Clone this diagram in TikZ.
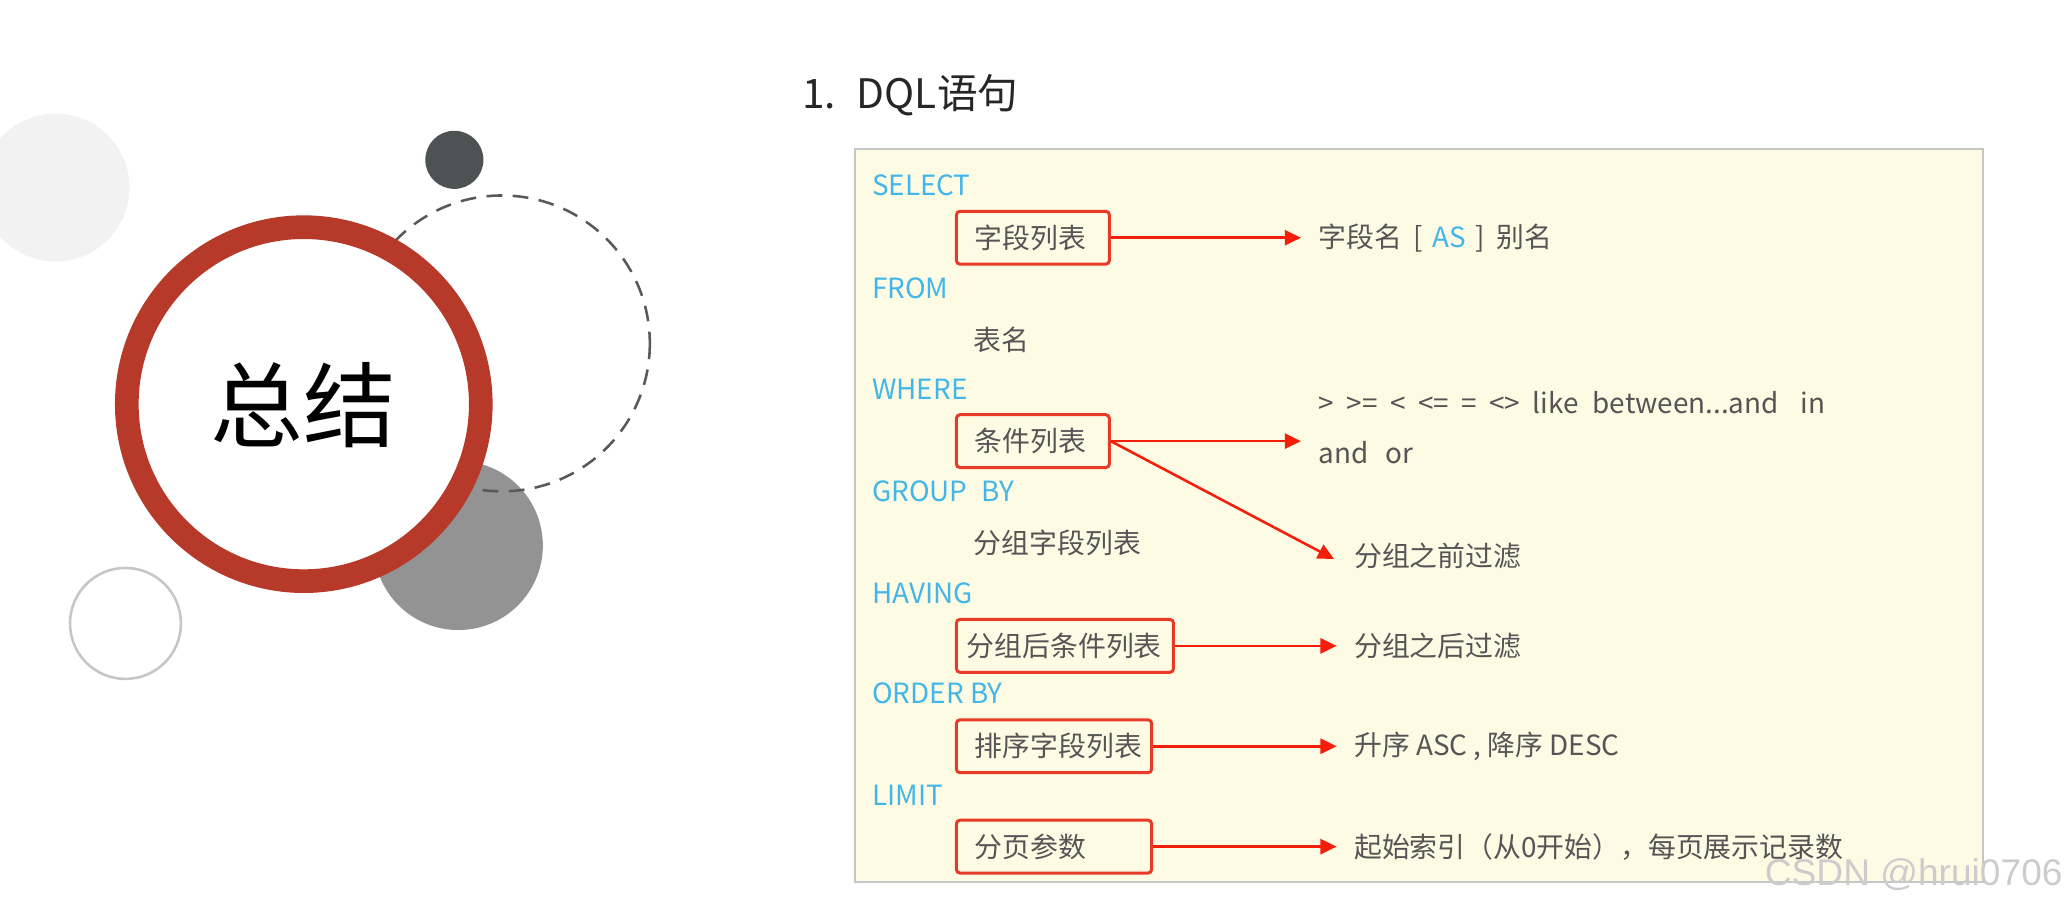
\documentclass[tikz,border=0pt]{standalone}
\usepackage{fontspec}
\setmainfont{Noto Sans CJK SC}
\newfontfamily\wmfont{Liberation Sans}
\usetikzlibrary{arrows.meta}
\definecolor{sqlblue}{RGB}{66,182,232}
\definecolor{txtgray}{RGB}{85,85,85}
\definecolor{boxred}{RGB}{232,58,38}
\definecolor{arrred}{RGB}{245,30,10}
\definecolor{ringred}{RGB}{183,57,42}
\definecolor{dotgray}{RGB}{78,82,83}
\definecolor{panelfill}{RGB}{254,251,229}
\newcommand\sqlfont{\fontsize{12}{21.5}\selectfont}
\begin{document}
\begin{tikzpicture}[x=0.02cm,y=-0.02cm,
    kw/.style={anchor=west,inner sep=0pt,text=sqlblue,font=\sqlfont},
    txt/.style={anchor=west,inner sep=0pt,text=txtgray,font=\sqlfont,align=left},
    redbox/.style={draw=boxred,line width=1.3pt,rounded corners=1.5pt,anchor=west,
      inner xsep=7.9pt,minimum height=0.8cm,align=left,text=txtgray,font=\sqlfont},
    arr/.style={draw=arrred,line width=1.1pt,-{Triangle[length=7pt,width=6.5pt]},shorten >=7.4pt}]
  \useasboundingbox (0,0) rectangle (1568,689);
  % left decoration
  \fill[gray!10] (42,142) circle[radius=56];
  \fill[dotgray] (344,121) circle[radius=22];
  \draw[gray!45,line width=1.1pt] (95,472) circle[radius=42];
  \fill[gray!85] (347,413) circle[radius=64];
  \draw[black!65,line width=1.1pt,dash pattern=on 6.8pt off 4.5pt] (380,260) circle[radius=112];
  \draw[ringred,fill=white,line width=10.2pt] (230,306) circle[radius=134];
  \node[font=\fontsize{40}{44}\selectfont] (sum) at (230,307) {总结};
  % title and panel
  \node[anchor=west,inner sep=0pt,text=black!85,font=\fontsize{17.5}{20}\selectfont] (title) at (607,72) {1.\hspace{9pt}DQL语句};
  \draw[gray!45,fill=panelfill,line width=0.85pt] (647,113) rectangle (1501,668);
  % keywords
  \node[kw] (sel) at (660,140) {SELECT};
  \node[kw] (frm) at (660,218) {FROM};
  \node[kw] (whr) at (660,295) {WHERE};
  \node[kw] (grp) at (660,372) {GROUP\hspace{0.5em}BY};
  \node[kw] (hav) at (660,449) {HAVING};
  \node[kw] (ord) at (660,525) {ORDER BY};
  \node[kw] (lim) at (660,602) {LIMIT};
  % items
  \node[redbox,text width=1.76cm] (b1) at (723,180) {字段列表};
  \node[txt] (tab) at (737,257) {表名};
  \node[redbox,text width=1.76cm] (b2) at (723,334) {条件列表};
  \node[txt] (gf) at (737,411) {分组字段列表};
  \node[redbox,text width=2.97cm,inner xsep=4.5pt] (b3) at (723,489) {分组后条件列表};
  \node[redbox,text width=2.4cm] (b4) at (723,565) {排序字段列表};
  \node[redbox,text width=2.4cm] (b5) at (723,641) {分页参数};
  % notes
  \node[txt] (t1) at (998,180) {字段名\hspace{0.4em}[\hspace{0.35em}{\color{sqlblue}AS}\hspace{0.35em}]\hspace{0.4em}别名};
  \node[txt] (t2) at (998,324) {>\hspace{0.45em}>=\hspace{0.45em}<\hspace{0.45em}<=\hspace{0.45em}=\hspace{0.45em}<>\hspace{0.45em}like\hspace{0.5em}between...and\hspace{0.8em}in\\and\hspace{0.6em}or};
  \node[txt] (t3) at (1025,421) {分组之前过滤};
  \node[txt] (t4) at (1025,489) {分组之后过滤};
  \node[txt] (t5) at (1025,565) {升序 ASC , 降序 DESC};
  \node[txt] (t6) at (1025,641) {起始索引（从0开始），每页展示记录数};
  \begin{scope}[arr]
    \draw (b1.east) -- (b1.east -| t1.west);
    \draw (b2.east) -- (b2.east -| t2.west);
    \draw[shorten >=9.6pt] (b2.east) -- (t3.south west);
    \draw (b3.east) -- (b3.east -| t4.west);
    \draw (b4.east) -- (b4.east -| t5.west);
    \draw (b5.east) -- (b5.east -| t6.west);
  \end{scope}
  \node[anchor=east,inner sep=0pt,text=gray!40,font=\wmfont\fontsize{16}{18}\selectfont] (wm) at (1562,662) {CSDN @hrui0706};
\end{tikzpicture}
\end{document}
